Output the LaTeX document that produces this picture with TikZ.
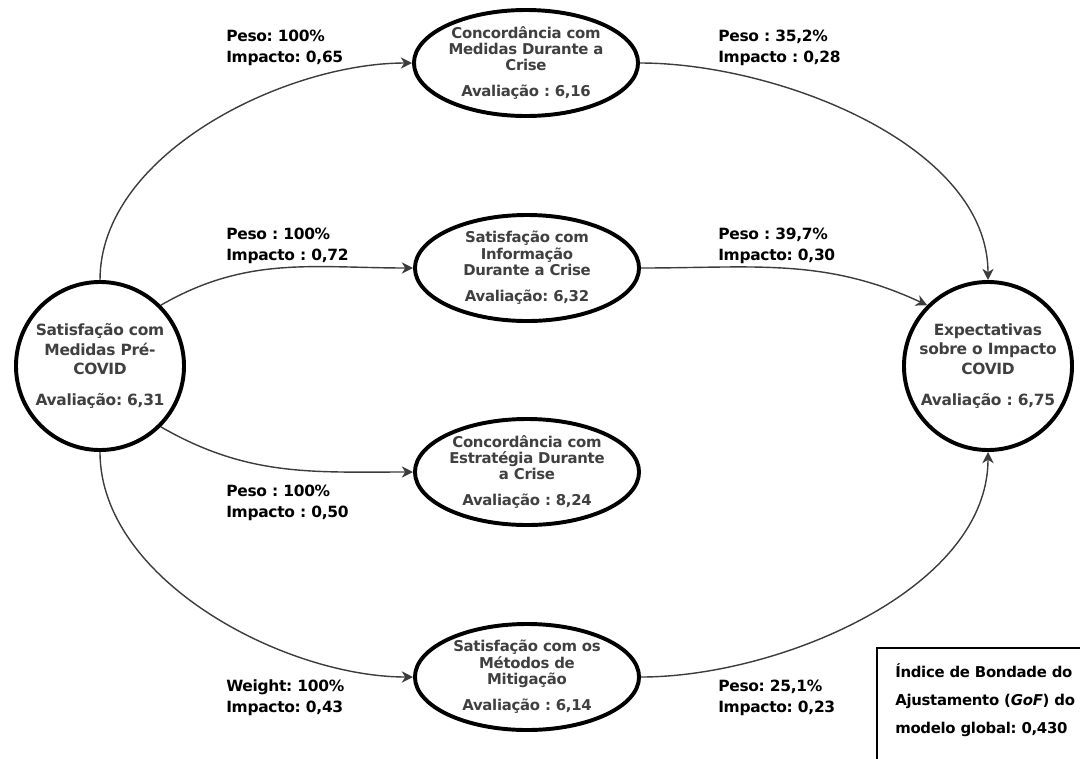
\documentclass[tikz,border=0pt]{standalone}
\usepackage{fontspec}
\setmainfont{DejaVu Sans}[LetterSpace=-2]
\usepackage{xcolor}
\usepackage{tikz}
\usetikzlibrary{shapes,arrows,arrows.meta,positioning}
\definecolor{nodetext}{HTML}{404040}
\definecolor{edgegray}{HTML}{3C3C3C}
\frenchspacing

\begin{document}
\begin{tikzpicture}[x=0.025cm, y=-0.025cm,
        construct/.style={circle, draw, line width=2.8pt, minimum size=4.2cm, inner sep=-6pt, align=center, text=nodetext, font=\fontsize{11}{14}\selectfont\bfseries},
        dimension/.style={ellipse, draw, line width=2.8pt, minimum width=5.6cm, minimum height=2.65cm, inner sep=-6pt, align=center, text=nodetext, font=\fontsize{10.6}{11.6}\selectfont\bfseries},
        weight/.style={anchor=west, inner sep=0pt, align=left, font=\fontsize{11}{15}\selectfont\bfseries},
        arrow/.style={-{Stealth[length=8pt,width=8pt,inset=2.5pt]}, edgegray, line width=1pt}
    ]
        \clip (0,0) rectangle (1080,758);

        \node[construct] (pre) at (100,366) {Satisfação com\\Medidas Pré-\\COVID\\[8pt]Avaliação: 6,31};
        \node[construct] (expect) at (988,366) {Expectativas\\sobre o Impacto\\COVID\\[8pt]Avaliação : 6,75};

        \node[dimension] (medidas) at (526,63) {Concordância com\\Medidas Durante a\\Crise\\[7pt]Avaliação : 6,16};
        \node[dimension] (info) at (527,268) {Satisfação com\\Informação\\Durante a Crise\\[7pt]Avaliação: 6,32};
        \node[dimension] (estrat) at (527,472) {Concordância com\\Estratégia Durante\\a Crise\\[7pt]Avaliação : 8,24};
        \node[dimension] (mitig) at (527,677) {Satisfação com os\\Métodos de\\Mitigação\\[7pt]Avaliação : 6,14};

        \draw[arrow] (pre.north) to[out=90, in=180, looseness=0.85] (medidas.west);
        \draw[arrow] (pre.45) to[out=30, in=180] (info.west);
        \draw[arrow] (pre.-45) to[out=-30, in=180] (estrat.west);
        \draw[arrow] (pre.south) to[out=-90, in=180, looseness=0.85] (mitig.west);
        \draw[arrow] (medidas.east) to[out=0, in=90, looseness=0.85] (expect.north);
        \draw[arrow] (info.east) to[out=0, in=155] (expect.135);
        \draw[arrow] (mitig.east) to[out=0, in=-90, looseness=0.85] (expect.south);

        \node[weight] (w1) at (226,48) {Peso: 100\%\\Impacto: 0,65};
        \node[weight] (w2) at (226,246) {Peso : 100\%\\Impacto : 0,72};
        \node[weight] (w3) at (226,503) {Peso : 100\%\\Impacto : 0,50};
        \node[weight] (w4) at (226,698) {Weight: 100\%\\Impacto: 0,43};
        \node[weight] (w5) at (718,48) {Peso : 35,2\%\\Impacto : 0,28};
        \node[weight] (w6) at (718,246) {Peso : 39,7\%\\Impacto: 0,30};
        \node[weight] (w7) at (718,698) {Peso: 25,1\%\\Impacto: 0,23};

        % goodness of fit
        \node[anchor=north west, inner sep=0pt, align=left, font=\fontsize{10.6}{20}\selectfont\bfseries] (gof) at (895,663) {Índice de Bondade do\\Ajustamento (\textit{GoF}) do\\modelo global: 0,430};
        \draw[line width=0.8pt] (877,648) rectangle (1100,800);
    \end{tikzpicture}
\end{document}
